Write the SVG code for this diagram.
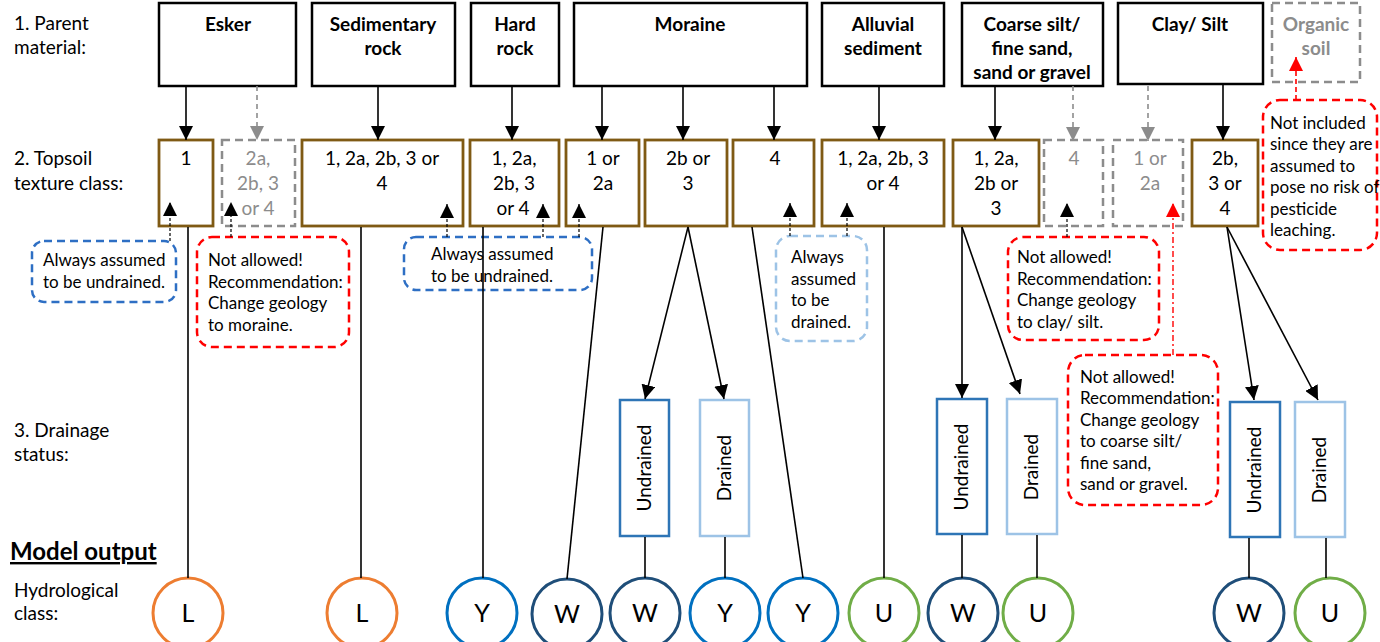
<svg xmlns="http://www.w3.org/2000/svg" width="1380" height="642" viewBox="0 0 1380 642">
<defs>
<style>
text{font-family:Lato,"Open Sans","Liberation Sans",sans-serif;fill:#000}
.lbl{font-size:19px}
.hd{font-size:19px;font-weight:bold;text-anchor:middle}
.hdg{font-size:19px;font-weight:bold;text-anchor:middle;fill:#8c8c8c}
.t2{font-size:19px;text-anchor:middle}
.t2g{font-size:19px;text-anchor:middle;fill:#8c8c8c}
.nt{font-size:17px}
.cl{font-size:25px;text-anchor:middle}
.rot{font-size:19px;text-anchor:middle}
.b1{fill:#fff;stroke:#000;stroke-width:2.5}
.bg{fill:none;stroke:#8c8c8c;stroke-width:2.5;stroke-dasharray:8 5}
.b2{fill:#fff;stroke:#7F5A14;stroke-width:2.8}
.nb{fill:none;stroke:#2E6FC4;stroke-width:2.5;stroke-dasharray:8 5}
.nl{fill:none;stroke:#9DC3E6;stroke-width:2.5;stroke-dasharray:8 5}
.nr{fill:none;stroke:#FF0000;stroke-width:2.5;stroke-dasharray:8 5}
.du{fill:#fff;stroke:#2E75B6;stroke-width:2.5}
.dd{fill:#fff;stroke:#9DC3E6;stroke-width:2.5}
.c{fill:#fff;stroke-width:3}
.ln{stroke:#000;stroke-width:1.6;fill:none}
.ar{stroke:#000;stroke-width:1.6;fill:none;marker-end:url(#ab)}
.arg{stroke:#8c8c8c;stroke-width:1.6;stroke-dasharray:5 4;fill:none;marker-end:url(#ag)}
.ard{stroke:#000;stroke-width:1.2;stroke-dasharray:3 2;fill:none;marker-end:url(#ab)}
.arr{stroke:#FF0000;stroke-width:1.4;stroke-dasharray:6 3 2 3;fill:none;marker-end:url(#ar)}
.arr2{stroke:#FF0000;stroke-width:1.6;stroke-dasharray:5 3;fill:none;marker-end:url(#ar)}
</style>
<marker id="ab" markerUnits="userSpaceOnUse" markerWidth="14" markerHeight="14" refX="14" refY="7" orient="auto"><path d="M0,0 L14,7 L0,14 z" fill="#000"/></marker>
<marker id="ag" markerUnits="userSpaceOnUse" markerWidth="14" markerHeight="14" refX="14" refY="7" orient="auto"><path d="M0,0 L14,7 L0,14 z" fill="#8c8c8c"/></marker>
<marker id="ar" markerUnits="userSpaceOnUse" markerWidth="14" markerHeight="14" refX="14" refY="7" orient="auto"><path d="M0,0 L14,7 L0,14 z" fill="#FF0000"/></marker>
</defs>
<rect width="1380" height="642" fill="#fff"/>

<g id="labels">
<text class="lbl" x="14" y="30">1. Parent</text>
<text class="lbl" x="14" y="54">material:</text>
<text class="lbl" x="14" y="165">2. Topsoil</text>
<text class="lbl" x="14" y="190">texture class:</text>
<text class="lbl" x="14" y="437">3. Drainage</text>
<text class="lbl" x="14" y="461">status:</text>
<text x="10" y="560" style="font-size:24px;font-weight:bold;text-decoration:underline">Model output</text>
<text class="lbl" x="14" y="597">Hydrological</text>
<text class="lbl" x="14" y="620">class:</text>
</g>

<g id="p-esker"><rect class="b1" x="159" y="3" width="137" height="83"/><text class="hd" x="228" y="31">Esker</text></g>
<g id="p-sed"><rect class="b1" x="312" y="3" width="143" height="83"/><text class="hd" x="383" y="31">Sedimentary</text><text class="hd" x="383" y="55">rock</text></g>
<g id="p-hard"><rect class="b1" x="471" y="3" width="88" height="83"/><text class="hd" x="515" y="31">Hard</text><text class="hd" x="515" y="55">rock</text></g>
<g id="p-moraine"><rect class="b1" x="574" y="3" width="233" height="83"/><text class="hd" x="690" y="31">Moraine</text></g>
<g id="p-alluvial"><rect class="b1" x="822" y="3" width="122" height="83"/><text class="hd" x="883" y="31">Alluvial</text><text class="hd" x="883" y="55">sediment</text></g>
<g id="p-coarse"><rect class="b1" x="962" y="3" width="141" height="83"/><text class="hd" x="1032" y="31">Coarse silt/</text><text class="hd" x="1032" y="55">fine sand,</text><text class="hd" x="1032" y="79">sand or gravel</text></g>
<g id="p-clay"><rect class="b1" x="1118" y="3" width="145" height="81"/><text class="hd" x="1190" y="31">Clay/ Silt</text></g>
<g id="p-organic"><rect class="bg" x="1272" y="3" width="88" height="79"/><text class="hdg" x="1316" y="31">Organic</text><text class="hdg" x="1316" y="55">soil</text></g>

<g id="t-esker1"><rect class="b2" x="159" y="140" width="54" height="86"/><text class="t2" x="186" y="165">1</text></g>
<g id="t-esker2"><rect class="bg" x="222" y="140" width="73" height="86"/><text class="t2g" x="258" y="165">2a,</text><text class="t2g" x="258" y="190">2b, 3</text><text class="t2g" x="258" y="215">or 4</text></g>
<g id="t-sed"><rect class="b2" x="302" y="140" width="161" height="86"/><text class="t2" x="382" y="165">1, 2a, 2b, 3 or</text><text class="t2" x="382" y="190">4</text></g>
<g id="t-hard"><rect class="b2" x="470" y="140" width="89" height="86"/><text class="t2" x="514" y="165">1, 2a,</text><text class="t2" x="514" y="190">2b, 3</text><text class="t2" x="513" y="215">or 4</text></g>
<g id="t-mor1"><rect class="b2" x="566" y="140" width="73" height="86"/><text class="t2" x="603" y="165">1 or</text><text class="t2" x="603" y="190">2a</text></g>
<g id="t-mor2"><rect class="b2" x="645" y="140" width="82" height="86"/><text class="t2" x="688" y="165">2b or</text><text class="t2" x="688" y="190">3</text></g>
<g id="t-mor3"><rect class="b2" x="733" y="140" width="81" height="86"/><text class="t2" x="775" y="165">4</text></g>
<g id="t-all"><rect class="b2" x="822" y="140" width="122" height="86"/><text class="t2" x="883" y="165">1, 2a, 2b, 3</text><text class="t2" x="883" y="190">or 4</text></g>
<g id="t-co1"><rect class="b2" x="953" y="140" width="86" height="86"/><text class="t2" x="996" y="165">1, 2a,</text><text class="t2" x="996" y="190">2b or</text><text class="t2" x="996" y="215">3</text></g>
<g id="t-co2"><rect class="bg" x="1044" y="140" width="59" height="86"/><text class="t2g" x="1074" y="165">4</text></g>
<g id="t-cl1"><rect class="bg" x="1113" y="140" width="70" height="86"/><text class="t2g" x="1150" y="165">1 or</text><text class="t2g" x="1150" y="190">2a</text></g>
<g id="t-cl2"><rect class="b2" x="1192" y="140" width="66" height="86"/><text class="t2" x="1225" y="165">2b,</text><text class="t2" x="1225" y="190">3 or</text><text class="t2" x="1225" y="215">4</text></g>

<g id="n-undr1"><rect class="nb" x="32" y="241" width="144" height="61" rx="12"/><text class="nt" x="43" y="266">Always assumed</text><text class="nt" x="43" y="288">to be undrained.</text></g>
<g id="n-red1"><rect class="nr" x="197" y="237" width="152" height="110" rx="15"/><text class="nt" x="208" y="266">Not allowed!</text><text class="nt" x="208" y="288">Recommendation:</text><text class="nt" x="208" y="309">Change geology</text><text class="nt" x="208" y="331">to moraine.</text></g>
<g id="n-undr2"><rect class="nb" x="404" y="237" width="188" height="53" rx="12"/><text class="nt" x="431" y="260">Always assumed</text><text class="nt" x="431" y="282">to be undrained.</text></g>
<g id="n-dr"><rect class="nl" x="776" y="236" width="91" height="105" rx="14"/><text class="nt" x="791" y="263">Always</text><text class="nt" x="791" y="285">assumed</text><text class="nt" x="791" y="306">to be</text><text class="nt" x="791" y="328">drained.</text></g>
<g id="n-red2"><rect class="nr" x="1008" y="237" width="151" height="103" rx="15"/><text class="nt" x="1017" y="263">Not allowed!</text><text class="nt" x="1017" y="285">Recommendation:</text><text class="nt" x="1017" y="306">Change geology</text><text class="nt" x="1017" y="328">to clay/ silt.</text></g>
<g id="n-red3"><rect class="nr" x="1068" y="355" width="150" height="150" rx="17"/><text class="nt" x="1080" y="383">Not allowed!</text><text class="nt" x="1080" y="404">Recommendation:</text><text class="nt" x="1080" y="426">Change geology</text><text class="nt" x="1080" y="447">to coarse silt/</text><text class="nt" x="1080" y="469">fine sand,</text><text class="nt" x="1080" y="490">sand or gravel.</text></g>
<g id="n-org"><rect class="nr" x="1263" y="100" width="114" height="150" rx="17"/><text class="nt" x="1270" y="129">Not included</text><text class="nt" x="1270" y="150">since they are</text><text class="nt" x="1270" y="172">assumed to</text><text class="nt" x="1270" y="193">pose no risk of</text><text class="nt" x="1270" y="215">pesticide</text><text class="nt" x="1270" y="236">leaching.</text></g>

<g id="d-mu"><rect class="du" x="620" y="400" width="49" height="136"/><text class="rot" transform="translate(651,468) rotate(-90)">Undrained</text></g>
<g id="d-md"><rect class="dd" x="700" y="400" width="49" height="136"/><text class="rot" transform="translate(731,468) rotate(-90)">Drained</text></g>
<g id="d-cu"><rect class="du" x="937" y="399" width="50" height="135"/><text class="rot" transform="translate(968,467) rotate(-90)">Undrained</text></g>
<g id="d-cd"><rect class="dd" x="1007" y="399" width="50" height="135"/><text class="rot" transform="translate(1038,467) rotate(-90)">Drained</text></g>
<g id="d-su"><rect class="du" x="1230" y="402" width="50" height="135"/><text class="rot" transform="translate(1261,470) rotate(-90)">Undrained</text></g>
<g id="d-sd"><rect class="dd" x="1295" y="402" width="50" height="135"/><text class="rot" transform="translate(1326,470) rotate(-90)">Drained</text></g>

<g id="o1"><circle class="c" cx="188" cy="613" r="35" stroke="#ED7D31"/><text class="cl" x="188" y="622">L</text></g>
<g id="o2"><circle class="c" cx="362" cy="613" r="35" stroke="#ED7D31"/><text class="cl" x="362" y="622">L</text></g>
<g id="o3"><circle class="c" cx="482" cy="613" r="35" stroke="#0070C0"/><text class="cl" x="482" y="622">Y</text></g>
<g id="o4"><circle class="c" cx="567" cy="614" r="35" stroke="#1F4E79"/><text class="cl" x="567" y="623">W</text></g>
<g id="o5"><circle class="c" cx="645" cy="613" r="35" stroke="#1F4E79"/><text class="cl" x="645" y="622">W</text></g>
<g id="o6"><circle class="c" cx="725" cy="613" r="35" stroke="#0070C0"/><text class="cl" x="725" y="622">Y</text></g>
<g id="o7"><circle class="c" cx="803" cy="613" r="35" stroke="#0070C0"/><text class="cl" x="803" y="622">Y</text></g>
<g id="o8"><circle class="c" cx="884" cy="613" r="35" stroke="#70AD47"/><text class="cl" x="884" y="622">U</text></g>
<g id="o9"><circle class="c" cx="963" cy="613" r="35" stroke="#1F4E79"/><text class="cl" x="963" y="622">W</text></g>
<g id="o10"><circle class="c" cx="1038" cy="613" r="35" stroke="#70AD47"/><text class="cl" x="1038" y="622">U</text></g>
<g id="o11"><circle class="c" cx="1249" cy="613" r="35" stroke="#1F4E79"/><text class="cl" x="1249" y="622">W</text></g>
<g id="o12"><circle class="c" cx="1330" cy="613" r="35" stroke="#70AD47"/><text class="cl" x="1330" y="622">U</text></g>

<g id="connectors">
<line class="ar" x1="186" y1="86" x2="186" y2="140"/>
<line class="arg" x1="257" y1="86" x2="257" y2="140"/>
<line class="ar" x1="378" y1="86" x2="378" y2="140"/>
<line class="ar" x1="512" y1="86" x2="512" y2="140"/>
<line class="ar" x1="602" y1="86" x2="602" y2="140"/>
<line class="ar" x1="683" y1="86" x2="683" y2="140"/>
<line class="ar" x1="774" y1="86" x2="774" y2="140"/>
<line class="ar" x1="879" y1="86" x2="879" y2="140"/>
<line class="ar" x1="995" y1="86" x2="995" y2="140"/>
<line class="arg" x1="1073" y1="86" x2="1073" y2="141"/>
<line class="arg" x1="1148" y1="86" x2="1148" y2="141"/>
<line class="ar" x1="1223" y1="84" x2="1223" y2="140"/>
<line class="arr2" x1="1296" y1="100" x2="1296" y2="57"/>

<line class="ln" x1="188" y1="227" x2="188" y2="578"/>
<line class="ln" x1="361" y1="227" x2="361" y2="578"/>
<line class="ln" x1="483" y1="227" x2="483" y2="578"/>
<line class="ln" x1="603" y1="227" x2="567" y2="579"/>
<line class="ar" x1="688" y1="227" x2="645" y2="399"/>
<line class="ar" x1="688" y1="227" x2="724" y2="399"/>
<line class="ln" x1="645" y1="537" x2="645" y2="578"/>
<line class="ln" x1="725" y1="537" x2="725" y2="578"/>
<line class="ln" x1="752" y1="227" x2="803" y2="578"/>
<line class="ln" x1="884" y1="227" x2="884" y2="578"/>
<line class="ar" x1="962" y1="227" x2="962" y2="398"/>
<line class="ar" x1="962" y1="227" x2="1020" y2="394"/>
<line class="ln" x1="962" y1="535" x2="962" y2="578"/>
<line class="ln" x1="1037" y1="535" x2="1037" y2="578"/>
<line class="ar" x1="1227" y1="227" x2="1254" y2="400"/>
<line class="ar" x1="1227" y1="227" x2="1318" y2="400"/>
<line class="ln" x1="1249" y1="538" x2="1249" y2="578"/>
<line class="ln" x1="1326" y1="538" x2="1326" y2="578"/>

<line class="ard" x1="170" y1="241" x2="170" y2="202"/>
<line class="ard" x1="231" y1="237" x2="231" y2="202"/>
<line class="ard" x1="447" y1="237" x2="447" y2="204"/>
<line class="ard" x1="543" y1="237" x2="543" y2="204"/>
<line class="ard" x1="579" y1="237" x2="579" y2="204"/>
<line class="ard" x1="790" y1="236" x2="790" y2="203"/>
<line class="ard" x1="847" y1="236" x2="847" y2="203"/>
<line class="ard" x1="1067" y1="237" x2="1067" y2="203"/>
<line class="arr" x1="1173" y1="355" x2="1173" y2="203"/>
</g>
</svg>
